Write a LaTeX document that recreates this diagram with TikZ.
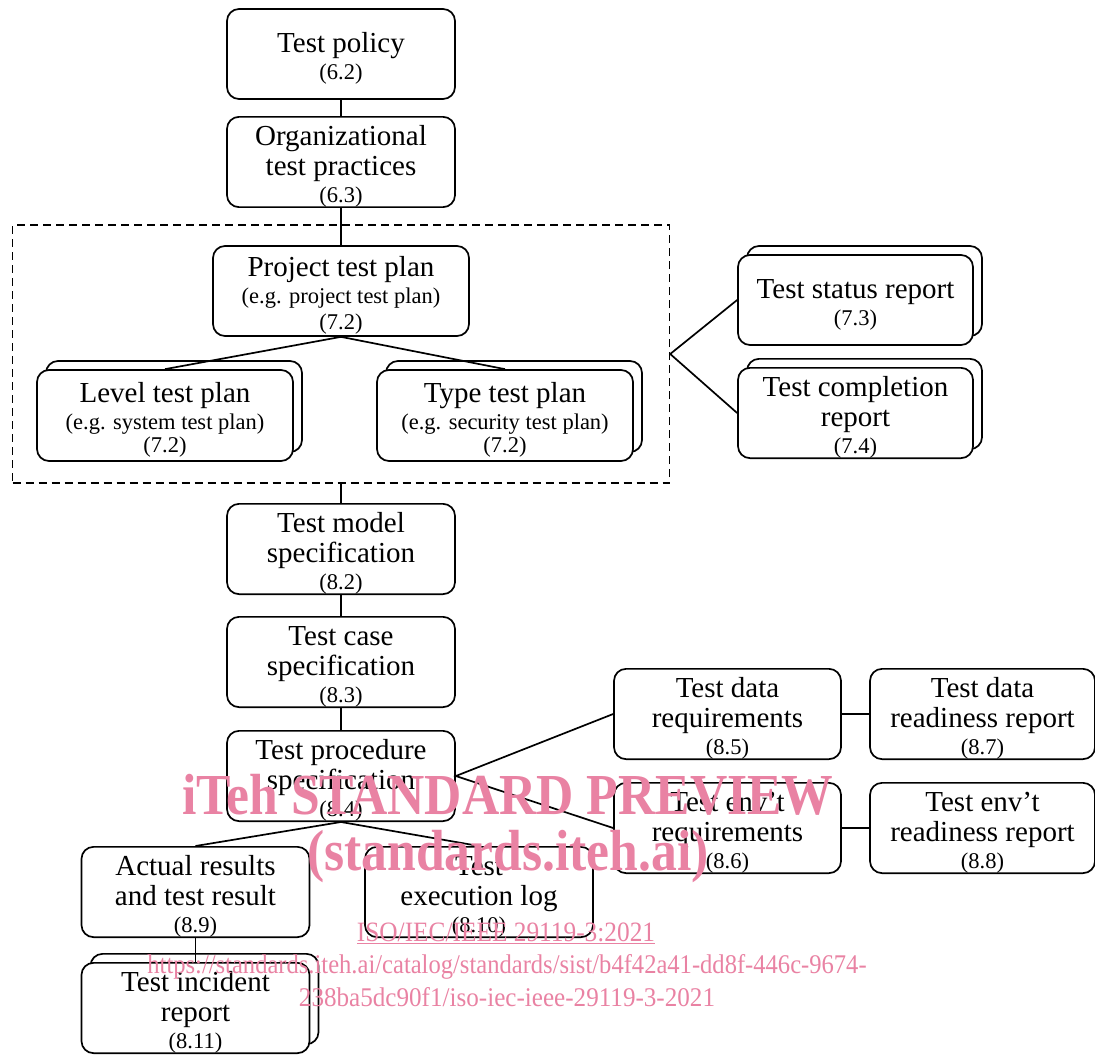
\documentclass[tikz,border=0pt]{standalone}
\usepackage{fontspec}
\setmainfont{Liberation Serif}
\usetikzlibrary{shadows}
\definecolor{wm}{RGB}{233,130,163}
\newcommand\smtxt[1]{{\fontsize{22.5}{25}\selectfont #1}}
\newcommand\topstrut{\rule{0pt}{28.5pt}}
\begin{document}
\begin{tikzpicture}[x=1pt,y=-1pt,
  box/.style={draw, line width=1.7pt, rounded corners=12pt, fill=white, align=center, inner sep=0pt,
    minimum width=228pt, minimum height=90pt, font=\fontsize{29}{30}\selectfont},
  stack/.style={copy shadow={shadow xshift=9pt, shadow yshift=9pt}},
  conn/.style={line width=1.7pt},
  wmtext/.style={text=wm, inner sep=0pt}]
\useasboundingbox (0,0) rectangle (1095,1055);

% main column
\node[box] (policy) at (341,54) {\topstrut Test policy\\[-3pt]\smtxt{(6.2)}};
\node[box] (org) at (341,162) {\topstrut Organizational\\test practices\\[-3pt]\smtxt{(6.3)}};

\node[draw, line width=1.4pt, dash pattern=on 8pt off 5pt, minimum width=657pt, minimum height=258pt, inner sep=0pt] (dash) at (341,354) {};

\node[box, minimum width=256pt] (proj) at (341,291) {\topstrut Project test plan\\[-3pt]\smtxt{(e.g. project test plan)}\\[-4pt]\smtxt{(7.2)}};
\node[box, stack, minimum width=256pt, minimum height=91pt] (level) at (165,415.5) {\topstrut Level test plan\\[-3pt]\smtxt{(e.g. system test plan)}\\[-7pt]\smtxt{(7.2)}};
\node[box, stack, minimum width=256pt, minimum height=91pt] (type) at (505,415.5) {\topstrut Type test plan\\[-3pt]\smtxt{(e.g. security test plan)}\\[-7pt]\smtxt{(7.2)}};

\node[box, stack, minimum width=235pt] (status) at (855.5,300) {\topstrut Test status report\\[-3pt]\smtxt{(7.3)}};
\node[box, stack, minimum width=235pt] (compl) at (855.5,413) {\topstrut Test completion\\report\\[-3pt]\smtxt{(7.4)}};

\node[box] (model) at (341,549) {\topstrut Test model\\specification\\[-3pt]\smtxt{(8.2)}};
\node[box] (case) at (341,662) {\topstrut Test case\\specification\\[-3pt]\smtxt{(8.3)}};
\node[box] (proc) at (341,776) {\topstrut Test procedure\\specification\\[-3pt]\smtxt{(8.4)}};

\node[box, minimum width=227pt] (datareq) at (727.5,714) {\topstrut Test data\\requirements\\[-3pt]\smtxt{(8.5)}};
\node[box, minimum width=225pt] (datard) at (982.5,714) {\topstrut Test data\\readiness report\\[-3pt]\smtxt{(8.7)}};
\node[box, minimum width=227pt] (envreq) at (727.5,828) {\topstrut Test env'{}t\\requirements\\[-3pt]\smtxt{(8.6)}};
\node[box, minimum width=225pt] (envrd) at (982.5,828) {\topstrut Test env'{}t\\readiness report\\[-3pt]\smtxt{(8.8)}};

\node[box] (actual) at (195.5,892) {\topstrut Actual results\\and test result\\[-3pt]\smtxt{(8.9)}};
\node[box] (exec) at (479,892) {\topstrut Test\\execution log\\[-3pt]\smtxt{(8.10)}};
\node[box, stack] (incid) at (195.5,1008) {\topstrut Test incident\\report\\[-3pt]\smtxt{(8.11)}};

% connectors
\draw[conn] (policy.south) -- (org.north);
\draw[conn] (org.south) -- (proj.north);
\draw[conn] (proj.south) -- (level.north);
\draw[conn] (proj.south) -- (type.north);
\draw[conn] (status.west) -- (dash.east) -- (compl.west);
\draw[conn] (dash.south) -- (model.north);
\draw[conn] (model.south) -- (case.north);
\draw[conn] (case.south) -- (proc.north);
\draw[conn] (datareq.west) -- (proc.east) -- (envreq.west);
\draw[conn] (datareq.east) -- (datard.west);
\draw[conn] (envreq.east) -- (envrd.west);
\draw[conn] (actual.north) -- (proc.south) -- (exec.north);
\draw[conn] (actual.south) -- (incid.north);

% watermark
\node[wmtext, font=\bfseries\fontsize{58}{60}\selectfont] (wm1) at (508,795) {\scalebox{0.89}[1]{iTeh STANDARD PREVIEW}};
\node[wmtext, font=\bfseries\fontsize{58}{60}\selectfont] (wm2) at (508,857) {\scalebox{0.89}[1]{(standards.iteh.ai)}};
\node[wmtext, font=\fontsize{28}{30}\selectfont] (wm3) at (506,933) {\scalebox{0.905}[1]{\underline{ISO/IEC/IEEE 29119-3:2021}}};
\node[wmtext, font=\fontsize{27}{28}\selectfont] (wm4) at (507,967) {\scalebox{0.91}[1]{https://standards.iteh.ai/catalog/standards/sist/b4f42a41-dd8f-446c-9674-}};
\node[wmtext, font=\fontsize{27}{28}\selectfont] (wm5) at (507,997) {\scalebox{0.93}[1]{238ba5dc90f1/iso-iec-ieee-29119-3-2021}};
\end{tikzpicture}
\end{document}
